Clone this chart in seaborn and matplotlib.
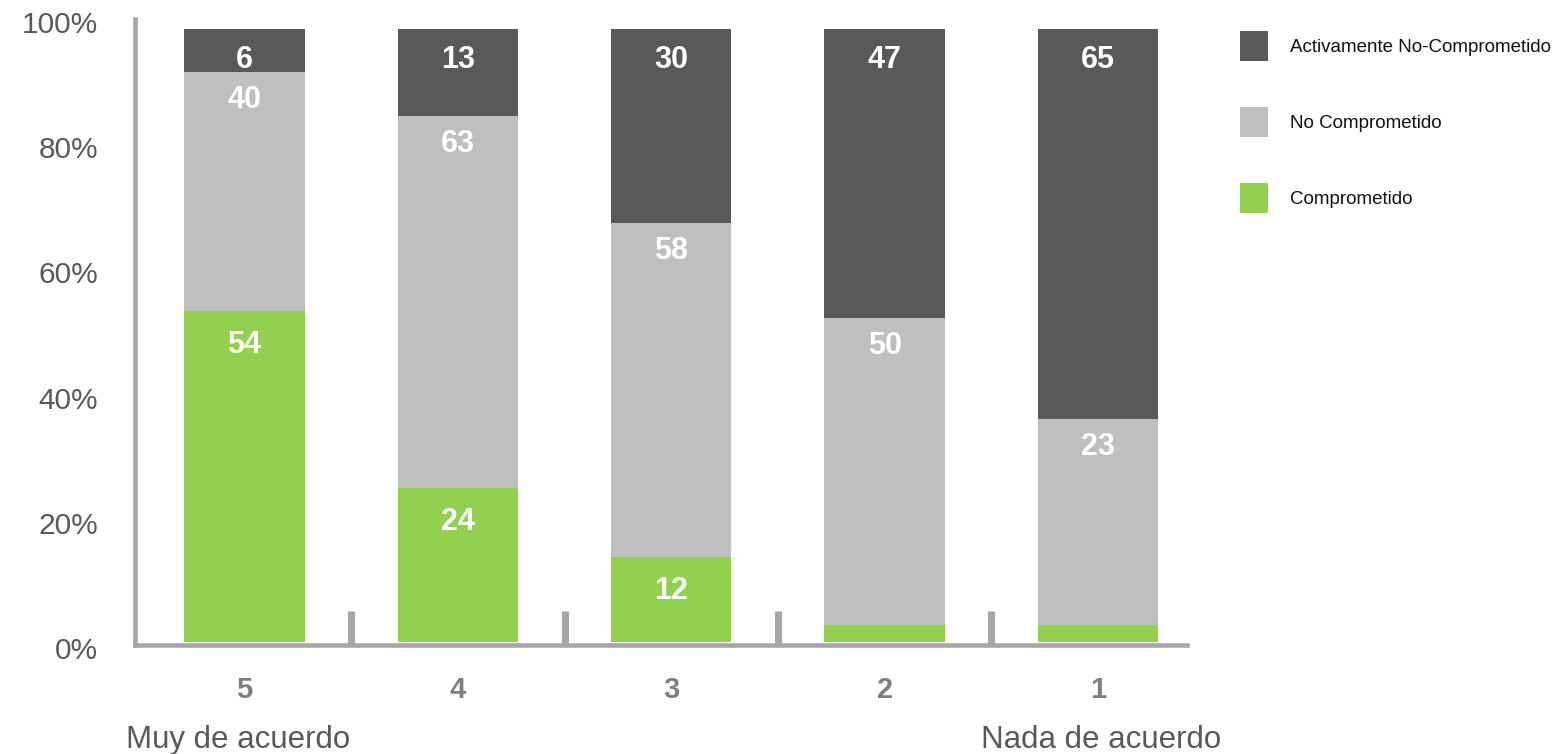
import matplotlib
matplotlib.use("Agg")
import matplotlib.pyplot as plt
import seaborn as sns
import pandas as pd
import numpy as np
from matplotlib.patches import Patch

# ---------------- data ----------------
categories = ["5", "4", "3", "2", "1"]
comprometido = [54.0, 25.1, 13.8, 2.8, 2.8]
no_comprometido = [39.0, 60.7, 54.6, 50.1, 33.5]
activamente = [7.0, 14.2, 31.6, 47.1, 63.7]
lbl_comprometido = ["54", "24", "12", "", ""]
lbl_no_comprometido = ["40", "63", "58", "50", "23"]
lbl_activamente = ["6", "13", "30", "47", "65"]
series_names = ["Activamente No-Comprometido", "No Comprometido", "Comprometido"]
y_ticks = [0, 20, 40, 60, 80, 100]
y_tick_labels = ["0%", "20%", "40%", "60%", "80%", "100%"]
left_note = "Muy de acuerdo"
right_note = "Nada de acuerdo"

DARK = "#595959"
GREY = "#bfbfbf"
GREEN = "#92d050"
AXIS = "#a6a6a6"

sns.set_theme(style="white")
plt.rcParams["font.family"] = ["Liberation Sans", "DejaVu Sans"]

df = pd.DataFrame({"cat": categories,
                   "comp": comprometido,
                   "nocomp": no_comprometido,
                   "activ": activamente})
df["top_green"] = df["comp"]
df["top_grey"] = df["comp"] + df["nocomp"]
df["top_dark"] = df["top_grey"] + df["activ"]

W, H = 1561, 754
fig = plt.figure(figsize=(W / 100, H / 100), dpi=100)
ax = fig.add_axes([135 / W, 1 - 644.5 / H, (1187 - 135) / W, (644.5 - 19) / H])

for col, color in [("top_dark", DARK), ("top_grey", GREY), ("top_green", GREEN)]:
    sns.barplot(data=df, x="cat", y=col, order=categories, color=color,
                saturation=1, width=0.564, errorbar=None, linewidth=0, ax=ax)

ax.set_xlabel("")
ax.set_ylabel("")
ax.set_yticks([])

for s in ["top", "right"]:
    ax.spines[s].set_visible(False)
for s in ["left", "bottom"]:
    ax.spines[s].set_visible(True)
    ax.spines[s].set_color(AXIS)
    ax.spines[s].set_linewidth(3.3)

ax.set_xticks(np.arange(len(categories)))
ax.set_xticklabels(categories)
ax.set_xticks(np.arange(len(categories) - 1) + 0.5, minor=True)
ax.tick_params(axis="x", which="minor", bottom=True, direction="in",
               length=24.8, width=5, color=AXIS)
ax.tick_params(axis="x", which="major", length=0, pad=23, labelsize=21,
               labelcolor="#7f7f7f")
for t in ax.get_xticklabels():
    t.set_fontweight("bold")

ax.set_xlim(-0.513, 4.417)
ax.set_ylim(-0.41, 101.63)

# value labels (offset below each segment top, in pixels)
offsets = {"green": 34, "grey": 28, "dark": 31}
for i in range(len(categories)):
    tops = [df["top_green"][i], df["top_grey"][i], df["top_dark"][i]]
    lbls = [lbl_comprometido[i], lbl_no_comprometido[i], lbl_activamente[i]]
    for top, lbl, key in zip(tops, lbls, ["green", "grey", "dark"]):
        if lbl:
            ax.annotate(lbl, xy=(i, top), xytext=(0, -offsets[key]),
                        textcoords="offset pixels", ha="center", va="center",
                        color="white", fontsize=22, fontweight="bold")

# y tick labels on an invisible helper axis
ax2 = fig.add_axes([135 / W, 1 - 648 / H, 0.0005, (648 - 22) / H])
ax2.set_ylim(0, 100)
ax2.set_yticks(y_ticks)
ax2.set_yticklabels(y_tick_labels)
ax2.set_xticks([])
ax2.tick_params(axis="y", length=0, pad=26.6, labelsize=21.5, labelcolor="#595959")
for s in ax2.spines.values():
    s.set_visible(False)
ax2.patch.set_alpha(0)

# notes under axis
fig.text(238.5 / W, 1 - 748 / H, left_note, ha="center", va="baseline",
         fontsize=22.5, color="#595959")
fig.text(1101 / W, 1 - 748 / H, right_note, ha="center", va="baseline",
         fontsize=22.5, color="#595959")

# legend
handles = [Patch(facecolor=c, edgecolor="none") for c in [DARK, GREY, GREEN]]
fig.legend(handles, series_names, loc="upper left",
           bbox_to_anchor=(1240 / W, 1 - 31 / H), frameon=False, fontsize=13.5,
           handlelength=1.49, handleheight=2.08, labelspacing=2.45,
           handletextpad=1.2, borderpad=0, borderaxespad=0, labelcolor="#111111")

fig.savefig("out.png", dpi=100)
